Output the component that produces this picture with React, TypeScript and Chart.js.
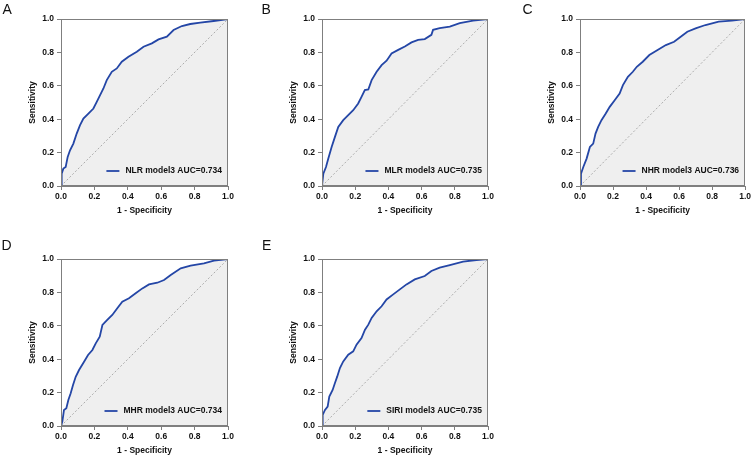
import React, { useEffect, useRef } from "react";
import { Chart, registerables } from "chart.js";

Chart.register(...registerables);

const tickLabels = ["0.0", "0.2", "0.4", "0.6", "0.8", "1.0"];
const panelLetters = ["A", "B", "C", "D", "E"];
const legendLabels = [
  "NLR model3 AUC=0.734",
  "MLR model3 AUC=0.735",
  "NHR model3 AUC=0.736",
  "MHR model3 AUC=0.734",
  "SIRI model3 AUC=0.735",
];
const xTitle = "1 - Specificity";
const yTitle = "Sensitivity";

const fprA = [0, 0.004, 0.014, 0.028, 0.04, 0.054, 0.074, 0.094, 0.114, 0.134, 0.164, 0.194, 0.214, 0.234, 0.254, 0.274, 0.304, 0.334, 0.364, 0.404, 0.454, 0.494, 0.544, 0.584, 0.634, 0.674, 0.724, 0.774, 0.834, 0.914, 1];
const tprA = [0, 0.074, 0.104, 0.114, 0.174, 0.214, 0.254, 0.314, 0.364, 0.404, 0.434, 0.464, 0.504, 0.544, 0.584, 0.634, 0.684, 0.704, 0.744, 0.774, 0.804, 0.834, 0.854, 0.878, 0.894, 0.934, 0.958, 0.97, 0.978, 0.988, 1];

const fprB = [0, 0.008, 0.024, 0.038, 0.058, 0.078, 0.098, 0.128, 0.158, 0.188, 0.218, 0.238, 0.258, 0.279, 0.299, 0.329, 0.359, 0.389, 0.419, 0.459, 0.499, 0.539, 0.579, 0.619, 0.659, 0.669, 0.709, 0.77, 0.83, 0.91, 1];
const tprB = [0, 0.074, 0.114, 0.164, 0.234, 0.294, 0.354, 0.394, 0.424, 0.454, 0.494, 0.534, 0.574, 0.578, 0.634, 0.684, 0.724, 0.75, 0.794, 0.815, 0.835, 0.86, 0.875, 0.88, 0.905, 0.935, 0.945, 0.955, 0.975, 0.99, 1];

const fprC = [0, 0.006, 0.02, 0.04, 0.06, 0.08, 0.094, 0.11, 0.13, 0.156, 0.18, 0.21, 0.24, 0.26, 0.29, 0.32, 0.344, 0.38, 0.42, 0.47, 0.52, 0.57, 0.61, 0.65, 0.7, 0.76, 0.84, 0.92, 1];
const tprC = [0, 0.074, 0.114, 0.164, 0.234, 0.254, 0.314, 0.354, 0.394, 0.434, 0.474, 0.514, 0.554, 0.604, 0.654, 0.684, 0.714, 0.744, 0.784, 0.814, 0.844, 0.864, 0.894, 0.924, 0.944, 0.964, 0.984, 0.99, 1];

const fprD = [0, 0.008, 0.018, 0.032, 0.044, 0.058, 0.072, 0.088, 0.108, 0.138, 0.162, 0.188, 0.208, 0.232, 0.248, 0.277, 0.307, 0.337, 0.367, 0.407, 0.447, 0.487, 0.527, 0.577, 0.617, 0.657, 0.717, 0.776, 0.856, 0.916, 1];
const tprD = [0, 0.026, 0.096, 0.106, 0.156, 0.196, 0.246, 0.295, 0.335, 0.385, 0.425, 0.455, 0.495, 0.535, 0.605, 0.635, 0.665, 0.705, 0.745, 0.765, 0.795, 0.824, 0.848, 0.858, 0.874, 0.904, 0.944, 0.96, 0.974, 0.99, 1];

const fprE = [0, 0.004, 0.018, 0.034, 0.044, 0.064, 0.078, 0.092, 0.108, 0.128, 0.158, 0.188, 0.208, 0.238, 0.259, 0.279, 0.299, 0.329, 0.359, 0.389, 0.429, 0.469, 0.509, 0.559, 0.619, 0.659, 0.709, 0.77, 0.85, 0.93, 1];
const tprE = [0, 0.066, 0.096, 0.116, 0.176, 0.216, 0.257, 0.297, 0.347, 0.387, 0.427, 0.447, 0.487, 0.527, 0.577, 0.607, 0.647, 0.687, 0.717, 0.758, 0.788, 0.818, 0.848, 0.878, 0.898, 0.928, 0.948, 0.964, 0.984, 0.994, 1];

const diagX = [0, 1];
const diagY = [0, 1];

const FONT = "'Liberation Sans', Arial, Helvetica, sans-serif";
const AXIS_GRAY = "#7f7f7f";
const CURVE_BLUE = "#2446a6";

type PanelProps = {
  fpr: number[];
  tpr: number[];
  legend: string;
  left: number;
  top: number;
  plotW: number;
  rightPad: number;
};

const PLOT_LEFT = 61;
const PLOT_TOP = 19;
const PLOT_H = 167;
const X_AXIS_H = 36;

function Panel({ fpr, tpr, legend, left, top, plotW, rightPad }: PanelProps) {
  const ref = useRef<HTMLCanvasElement | null>(null);
  const width = PLOT_LEFT + plotW + rightPad;
  const height = PLOT_TOP + PLOT_H + X_AXIS_H;

  useEffect(() => {
    if (!ref.current) return;
    const boxPlugin = {
      id: "boxAndLegend",
      afterDraw(chart: any) {
        const { ctx, chartArea } = chart;
        ctx.save();
        ctx.strokeStyle = AXIS_GRAY;
        ctx.lineWidth = 1;
        ctx.strokeRect(
          Math.round(chartArea.left) + 0.5,
          Math.round(chartArea.top) + 0.5,
          Math.round(chartArea.right - chartArea.left) - 1,
          Math.round(chartArea.bottom - chartArea.top) - 1
        );
        ctx.font = `bold 8.5px ${FONT}`;
        ctx.fillStyle = "#111";
        ctx.textBaseline = "middle";
        ctx.textAlign = "left";
        const tw = ctx.measureText(legend).width;
        const ty = chartArea.bottom - 15;
        const tx = chartArea.right - 6 - tw;
        ctx.fillText(legend, tx, ty);
        ctx.strokeStyle = CURVE_BLUE;
        ctx.lineWidth = 1.8;
        ctx.beginPath();
        ctx.moveTo(tx - 19, ty);
        ctx.lineTo(tx - 6, ty);
        ctx.stroke();
        ctx.restore();
      },
    };

    const chart = new Chart(ref.current, {
      type: "line",
      data: {
        datasets: [
          {
            data: fpr.map((x, i) => ({ x, y: tpr[i] })),
            borderColor: CURVE_BLUE,
            borderWidth: 1.8,
            backgroundColor: "#efefef",
            fill: "origin",
            pointRadius: 0,
            tension: 0,
          },
          {
            data: diagX.map((x, i) => ({ x, y: diagY[i] })),
            borderColor: "#9a9a9a",
            borderWidth: 0.8,
            borderDash: [2, 2],
            fill: false,
            pointRadius: 0,
          },
        ],
      },
      options: {
        animation: false,
        responsive: false,
        events: [],
        layout: {
          autoPadding: false,
          padding: { top: PLOT_TOP, right: rightPad, left: 0, bottom: 0 },
        },
        plugins: {
          legend: { display: false },
          tooltip: { enabled: false },
          filler: { drawTime: "beforeDatasetsDraw" },
        },
        scales: {
          x: {
            type: "linear",
            min: 0,
            max: 1,
            afterFit: (s: any) => {
              s.height = X_AXIS_H;
            },
            ticks: {
              stepSize: 0.2,
              autoSkip: false,
              maxRotation: 0,
              padding: 2,
              color: "#111",
              font: { family: FONT, size: 8.5, weight: "bold" },
              callback: (_v: any, i: number) => tickLabels[i],
            },
            grid: {
              display: true,
              drawOnChartArea: false,
              drawTicks: true,
              tickLength: 4,
              color: AXIS_GRAY,
            },
            border: { display: true, color: AXIS_GRAY },
            title: {
              display: true,
              text: xTitle,
              color: "#111",
              font: { family: FONT, size: 8.5, weight: "bold" },
              padding: { top: 0, bottom: 6 },
            },
          },
          y: {
            type: "linear",
            min: 0,
            max: 1,
            afterFit: (s: any) => {
              s.width = PLOT_LEFT;
            },
            ticks: {
              stepSize: 0.2,
              autoSkip: false,
              padding: 3,
              color: "#111",
              font: { family: FONT, size: 8.5, weight: "bold" },
              callback: (_v: any, i: number) => tickLabels[i],
            },
            grid: {
              display: true,
              drawOnChartArea: false,
              drawTicks: true,
              tickLength: 4,
              color: AXIS_GRAY,
            },
            border: { display: true, color: AXIS_GRAY },
            title: {
              display: true,
              text: yTitle,
              color: "#111",
              font: { family: FONT, size: 8.5, weight: "bold" },
              padding: { top: 28, bottom: 0 },
            },
          },
        },
      } as any,
      plugins: [boxPlugin],
    });
    return () => chart.destroy();
  }, [fpr, tpr, legend, rightPad]);

  return (
    <canvas
      ref={ref}
      width={width}
      height={height}
      style={{ position: "absolute", left, top, width, height }}
    />
  );
}

const letterStyle: React.CSSProperties = {
  position: "absolute",
  fontFamily: FONT,
  fontSize: 14,
  lineHeight: "14px",
  color: "#111",
};

export default function App() {
  return (
    <div
      style={{
        position: "fixed",
        left: 0,
        top: 0,
        width: 753,
        height: 457,
        overflow: "hidden",
        background: "#fff",
      }}
    >
      <Panel fpr={fprA} tpr={tprA} legend={legendLabels[0]} left={0} top={0} plotW={167} rightPad={22} />
      <Panel fpr={fprB} tpr={tprB} legend={legendLabels[1]} left={261} top={0} plotW={166} rightPad={20} />
      <Panel fpr={fprC} tpr={tprC} legend={legendLabels[2]} left={519} top={0} plotW={167} rightPad={6} />
      <Panel fpr={fprD} tpr={tprD} legend={legendLabels[3]} left={0} top={240} plotW={167} rightPad={22} />
      <Panel fpr={fprE} tpr={tprE} legend={legendLabels[4]} left={261} top={240} plotW={166} rightPad={20} />
      <div style={{ ...letterStyle, left: 2.5, top: 1.5 }}>{panelLetters[0]}</div>
      <div style={{ ...letterStyle, left: 261.5, top: 1.5 }}>{panelLetters[1]}</div>
      <div style={{ ...letterStyle, left: 522.5, top: 1.5 }}>{panelLetters[2]}</div>
      <div style={{ ...letterStyle, left: 1.5, top: 238 }}>{panelLetters[3]}</div>
      <div style={{ ...letterStyle, left: 262, top: 238 }}>{panelLetters[4]}</div>
    </div>
  );
}
